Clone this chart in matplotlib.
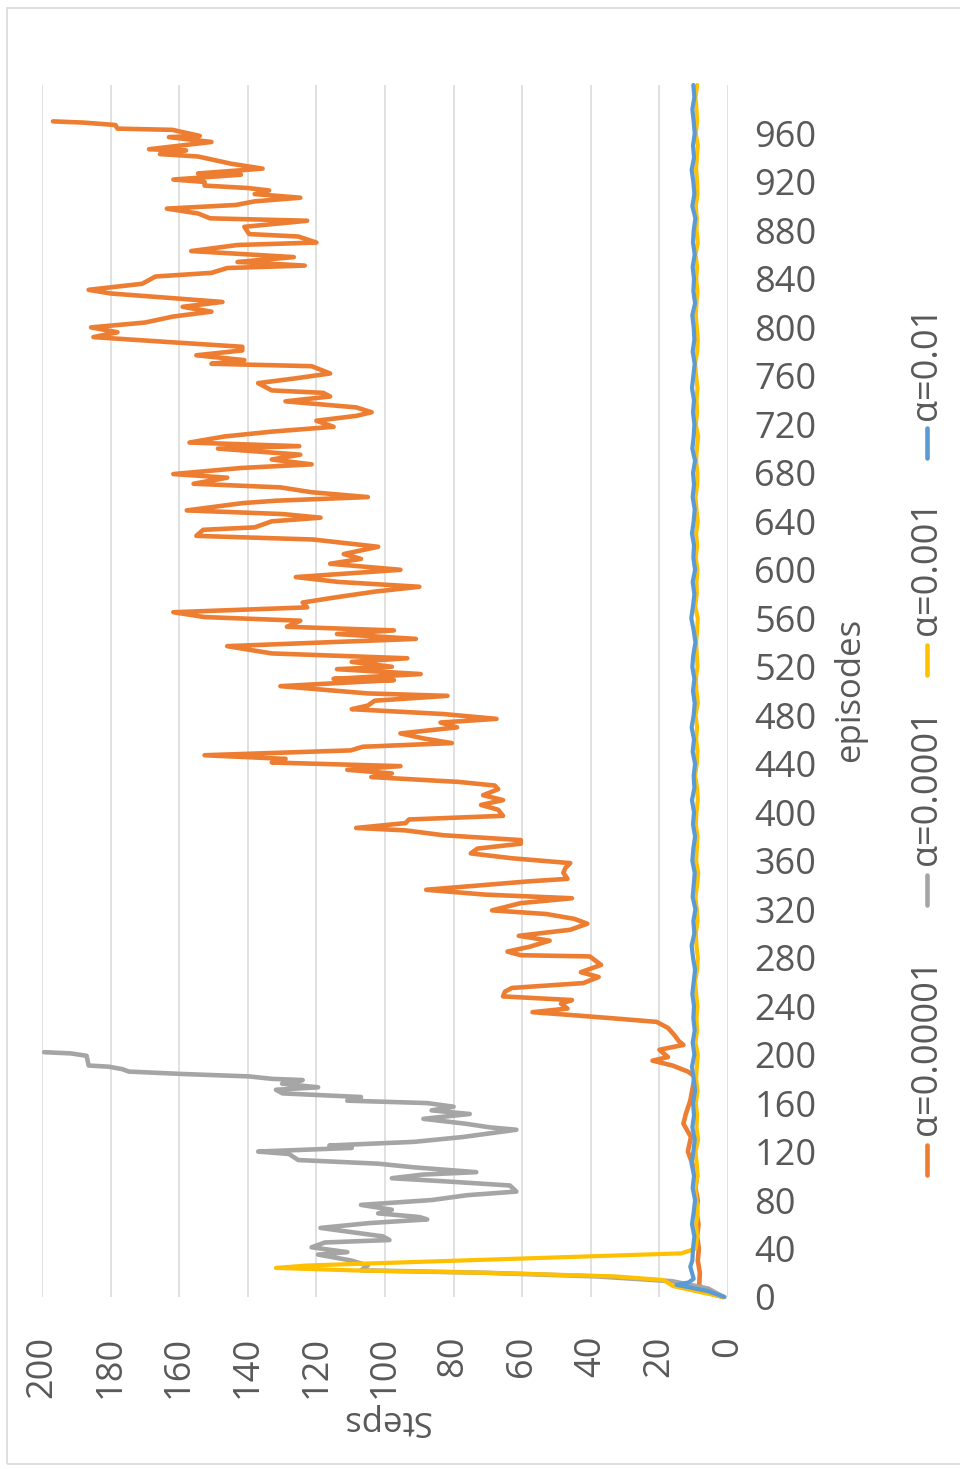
import matplotlib
matplotlib.use("Agg")
import matplotlib.pyplot as plt
from matplotlib.lines import Line2D
from matplotlib.patches import Rectangle

plt.rcParams['font.family'] = ['Open Sans', 'DejaVu Sans']

# ---- series data: (episode, steps) ----
orange_ep = [0, 2, 5, 10, 20, 30, 40, 50, 60, 70, 80, 90, 100, 110, 120, 132, 143, 151, 162, 171,
             182, 186, 191, 195, 198, 204, 208, 211, 216, 222, 227, 230, 233, 235, 238, 242, 245,
             248, 252, 255, 259, 264, 268, 274, 281, 282, 285, 289, 294, 298, 303, 308, 312, 316,
             319, 325, 329, 332, 336, 343, 345, 350, 354, 358, 362, 366, 370, 374, 377, 381, 385,
             387, 391, 394, 397, 402, 406, 410, 414, 419, 422, 425, 429, 432, 435, 438, 441, 444,
             447, 451, 454, 457, 461, 465, 470, 474, 477, 481, 485, 488, 492, 496, 498, 504, 509,
             510, 514, 518, 520, 524, 527, 531, 537, 543, 547, 550, 553, 558, 561, 565, 569, 573,
             577, 582, 586, 590, 594, 600, 605, 609, 613, 619, 625, 628, 633, 635, 640, 643, 646,
             649, 655, 657, 660, 664, 668, 671, 676, 679, 684, 687, 691, 695, 700, 702, 705, 710,
             714, 718, 723, 727, 730, 734, 739, 743, 746, 748, 754, 758, 762, 768, 770, 773, 777,
             781, 784, 788, 792, 796, 800, 804, 809, 813, 817, 821, 826, 828, 831, 836, 842, 845,
             849, 851, 854, 858, 863, 868, 870, 875, 877, 883, 888, 890, 894, 898, 901, 904, 907,
             910, 913, 915, 917, 920, 922, 926, 927, 931, 935, 941, 943, 946, 947, 953, 957, 958,
             963, 964, 967, 969, 970]
orange_steps = [1.5, 4, 7, 8.4, 8.2, 8.8, 8.5, 9, 8.6, 9.2, 8.8, 9.5, 9, 10.4, 11.7, 10.8, 13, 12.3, 11, 10.4,
                9.7, 11.7, 16.2, 22, 17.5, 20, 13, 14.3, 15.6, 17.5, 20.8, 33.8, 47.4, 57, 46.8, 48.7, 45.5,
                65.6, 65, 63, 42.2, 37.7, 42.9, 37, 40.3, 60.4, 64.3, 57.8, 52, 61, 46, 41, 44.8, 53,
                68.8, 60.4, 45.5, 70.8, 88, 57.8, 46.8, 48, 47.4, 46, 63, 75, 73, 60.4, 60.4, 83, 94,
                108.4, 94, 93, 65.6, 67, 72, 65.6, 71.4, 67, 68, 78.6, 104, 98, 111, 95.5, 133, 129,
                152.6, 110, 106.5, 80.5, 89, 95.5, 79, 83.8, 67.5, 83, 109.7, 105, 103, 81.8, 105, 130.5, 97.4,
                115, 89.6, 114, 98, 109.7, 93.5, 133, 146, 91, 114, 97.4, 128.6, 124.7, 152.6, 161.7, 122.7, 124,
                115, 103, 90, 113.6, 126, 95.5, 116, 107, 112, 102, 121, 155, 153, 138, 133, 118.8, 129.9,
                157.8, 141.6, 131.8, 105, 121.4, 130.5, 155.8, 146, 161.7, 142, 121.4, 133, 124.7, 148.7, 125, 157, 146.8,
                133, 115, 120, 108.4, 103.9, 108.4, 129, 116, 118, 133, 137, 126, 116, 121.4, 150.6, 141, 155,
                141.6, 141.6, 163.6, 185, 178, 185.7, 170, 161.7, 150.6, 159, 147.4, 170.8, 180, 186.4, 170.8, 166.9, 150.6,
                146, 123.4, 143, 126.6, 156.5, 142.9, 120, 125.3, 139.6, 141, 122.7, 151, 154.5, 163.6, 143.5, 138, 124.7,
                138, 133.8, 140, 152.6, 152.6, 161.7, 142, 154.5, 135.7, 144.8, 154.5, 165.6, 158, 168.8, 150.6, 163, 154,
                162, 178, 178.6, 188, 196.8]

gray_ep = [0, 7, 13, 17, 20, 22, 26, 30, 35, 37, 41, 45, 47, 50, 54, 57, 61, 64, 66, 69, 72, 76, 80,
           84, 87, 92, 95, 98, 101, 103, 107, 110, 113, 118, 120, 123, 125, 128, 132, 138, 140, 143,
           147, 151, 154, 157, 160, 162, 165, 168, 171, 173, 176, 179, 180, 182, 184, 186, 188, 190,
           191, 199, 201, 202]
gray_steps = [1.3, 5.8, 16.2, 38.3, 70.8, 107, 105, 109.7, 119.5, 111, 121.4, 117.5, 98.7, 100.6, 111, 118.8,
              104.5, 87.7, 90, 102, 98, 107, 86.4, 76, 61.7, 63.6, 80, 98, 89, 73.4, 91.6, 102, 125.3, 128,
              137, 109.7, 116.2, 91.6, 77.3, 61.7, 69.5, 76.6, 88.8, 75.3, 86.4, 80, 87.7, 111, 107, 129.9,
              131.8, 119.5, 130, 124, 133, 139.6, 159, 174.7, 176.6, 180.5, 186.4, 187, 191.6, 199.4]

yellow_head_ep = [0, 4, 9, 14, 17, 20, 22, 24, 26, 36, 39]
yellow_head = [1.2, 8, 16, 18.8, 33, 70.8, 109.7, 131.8, 122.7, 13.6, 10.4]
yellow_tail = [9.4, 9.0, 9.3, 8.8, 9.2, 9.6, 8.9, 9.1, 9.5, 8.7,
               9.2, 9.0, 9.4, 8.9, 9.3, 9.1, 8.8, 9.5, 9.0, 9.2,
               8.9, 9.3, 9.6, 9.0, 8.8, 9.2, 9.4, 8.9, 9.1, 9.5,
               9.0, 8.7, 9.3, 9.1, 8.9, 9.4, 9.2, 8.8, 9.0, 9.6,
               9.1, 8.9, 9.3, 9.0, 9.5, 8.8, 9.2, 9.4, 8.9, 9.1,
               9.3, 9.0, 8.8, 9.6, 9.1, 9.2, 8.9, 9.4, 9.0, 9.3,
               8.8, 9.2, 9.5, 9.0, 8.9, 9.3, 9.1, 8.7, 9.4, 9.0,
               9.2, 8.9, 9.3, 9.6, 9.0, 8.8, 9.1, 9.4, 9.2, 8.9,
               9.3, 9.0, 9.5, 8.8, 9.2, 9.1, 9.4, 8.9, 9.0, 9.3,
               9.1, 8.8, 9.4, 9.0, 9.2, 9.5, 9.0]

blue_head_ep = [0, 5, 10, 12, 15, 20, 25, 30]
blue_head = [1.0, 6, 15, 11.5, 10, 10.5, 11, 10.4]
blue_tail = [10.2, 9.8, 10.5, 10.0, 9.6, 10.3, 9.9, 10.6, 10.1, 9.7,
             10.4, 9.9, 10.2, 9.6, 10.0, 10.5, 9.8, 10.3, 9.7, 10.1,
             9.9, 10.4, 10.0, 9.6, 10.2, 10.6, 9.8, 10.1, 9.5, 10.3,
             10.0, 9.7, 10.4, 10.1, 9.6, 10.2, 9.9, 10.5, 9.8, 10.0,
             9.6, 10.3, 9.9, 10.6, 10.0, 9.7, 10.2, 9.8, 10.4, 10.1,
             9.5, 10.0, 10.7, 10.2, 9.8, 10.3, 9.6, 10.1, 9.9, 10.5,
             10.0, 9.7, 10.3, 9.9, 10.2, 9.6, 10.4, 10.0, 9.8, 10.2,
             9.9, 10.5, 10.1, 9.7, 10.3, 9.8, 10.0, 10.4, 9.6, 10.1,
             9.9, 10.3, 9.7, 10.2, 10.0, 9.5, 10.4, 9.8, 10.1, 10.6,
             9.9, 10.2, 9.7, 10.0, 10.4, 9.8, 10.1]
tail_ep = list(range(40, 1001, 10))

labels = ['α=0.00001', 'α=0.0001', 'α=0.001', 'α=0.01']
colors = ['#ED7D31', '#A5A5A5', '#FFC000', '#5B9BD5']
step_ticks = list(range(0, 201, 20))
episode_ticks = list(range(0, 961, 40))

W, H = 960, 1469
TXT = '#595959'
GRID = '#d9d9d9'

fig = plt.figure(figsize=(W / 100, H / 100), dpi=100)
fig.patch.set_facecolor('white')

def fy(py):
    return 1 - py / H

# chart border
fig.patches.append(Rectangle((7 / W, fy(1464)), (962 - 7) / W, (1464 - 8) / H,
                             transform=fig.transFigure, fill=False, ec=GRID, lw=1.2))

ax = fig.add_axes([42 / W, fy(1297), (728 - 42) / W, (1297 - 85) / H])
ax.set_xlim(200, 0)
ax.set_ylim(0, 1000)
ax.set_xticks(step_ticks)
ax.set_yticks(episode_ticks)
ax.grid(axis='x', color=GRID, lw=1.1)
ax.grid(axis='y', visible=False)
ax.set_axisbelow(True)
for s in ax.spines.values():
    s.set_visible(False)
ax.yaxis.tick_right()
ax.tick_params(axis='both', length=0, labelsize=26, labelcolor=TXT)
ax.tick_params(axis='x', pad=28, labelrotation=90)
ax.tick_params(axis='y', pad=19)
for lab in ax.get_yticklabels():
    lab.set_va('center_baseline')

kw = dict(solid_joinstyle='round', solid_capstyle='round', clip_on=False)
ax.plot(orange_steps, orange_ep, color=colors[0], lw=3.3, zorder=3, **kw)
ax.plot(gray_steps, gray_ep, color=colors[1], lw=3.3, zorder=4, **kw)
ax.plot(yellow_head + yellow_tail, yellow_head_ep + tail_ep, color=colors[2], lw=3.0, zorder=5, **kw)
ax.plot(blue_head + blue_tail, blue_head_ep + tail_ep, color=colors[3], lw=3.0, zorder=6, **kw)

# axis titles
fig.text(386 / W, fy(1420), 'Steps', rotation=180, ha='center', va='center',
         fontsize=25, color=TXT)
fig.text(850 / W, fy(690), 'episodes', rotation=90, ha='center', va='center',
         fontsize=25, color=TXT)

# legend (vertical, reading bottom to top)
leg_x = 927
marker_spans = [(1175, 1145), (905, 875), (675, 645), (458, 428)]
text_bottoms = [1135, 865, 635, 420]
for lab, col, (m0, m1), tb in zip(labels, colors, marker_spans, text_bottoms):
    fig.add_artist(Line2D([leg_x / W, leg_x / W], [fy(m0), fy(m1)], transform=fig.transFigure,
                          color=col, lw=3.3, solid_capstyle='round'))
    fig.text(leg_x / W, fy(tb), lab, rotation=90, ha='center', va='bottom',
             fontsize=26, color=TXT)

fig.savefig('out.png', dpi=100, facecolor='white')
